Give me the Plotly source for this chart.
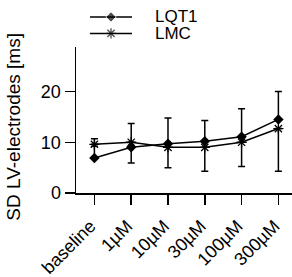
import plotly.graph_objects as go

categories = ["baseline", "1µM", "10µM", "30µM", "100µM", "300µM"]
lqt1 = [6.9, 9.0, 9.7, 10.2, 11.1, 14.5]
lqt1_err_up = [3.8, 4.7, 5.1, 4.1, 5.5, 5.5]
lmc = [9.6, 10.0, 9.0, 9.0, 10.0, 12.7]
lmc_err_down = [0.4, 4.1, 4.0, 4.7, 4.8, 8.4]
y_ticks = [0, 10, 20]
series_names = ["LQT1", "LMC"]

font = "Liberation Sans, Arial, sans-serif"
xi = list(range(len(categories)))

W, H = 292, 277
ML, MB = 76, 83.5
plot_h = H - MB           # plot area with zero top margin
axis_top_px = 47          # top of the y axis line, in pixels from top
ydom_top = (plot_h - axis_top_px) / plot_h

marker_lqt1 = dict(symbol="diamond", size=8, color="black")
marker_lmc = dict(symbol="asterisk-open", size=8.5, color="black",
                  line=dict(width=1.3, color="black"))

fig = go.Figure()
fig.add_trace(go.Scatter(
    x=xi, y=lqt1, name=series_names[0], mode="lines+markers",
    line=dict(color="black", width=1.5), marker=marker_lqt1,
    error_y=dict(type="data", symmetric=False, array=lqt1_err_up,
                 arrayminus=[0] * len(lqt1), color="black", thickness=1.5, width=3.5),
    showlegend=False,
))
fig.add_trace(go.Scatter(
    x=xi, y=lmc, name=series_names[1], mode="lines+markers",
    line=dict(color="black", width=1.5), marker=marker_lmc,
    error_y=dict(type="data", symmetric=False, array=[0] * len(lmc),
                 arrayminus=lmc_err_down, color="black", thickness=1.5, width=3.5),
    showlegend=False,
))

# legend drawn on a separate pixel-scaled subplot above the axes
leg_x0, leg_x1, leg_text_x = 90, 132, 153
leg_rows = [17, 33.5]
for name, mk, yy in zip(series_names, [marker_lqt1, marker_lmc], leg_rows):
    fig.add_trace(go.Scatter(
        x=[leg_x0, (leg_x0 + leg_x1) / 2, leg_x1], y=[yy, yy, yy],
        mode="lines+markers", xaxis="x2", yaxis="y2",
        line=dict(color="black", width=1.5),
        marker=dict(mk, size=[0, mk["size"], 0]),
        showlegend=False, hoverinfo="skip", cliponaxis=False,
    ))
    fig.add_annotation(x=leg_text_x, y=yy, xref="x2", yref="y2", text=name,
                       showarrow=False, xanchor="left", yanchor="middle",
                       font=dict(size=17, family=font, color="black"))

# y-axis title (paper coordinates)
title_cx, title_cy = 14, 127
fig.add_annotation(x=(title_cx - ML) / (W - ML), y=(plot_h - title_cy) / plot_h,
                   xref="paper", yref="paper", text="SD LV-electrodes [ms]",
                   textangle=-90, showarrow=False, xanchor="center", yanchor="middle",
                   font=dict(size=19, family=font, color="black"))

fig.update_layout(
    width=W, height=H,
    margin=dict(l=ML, r=0, t=0, b=MB),
    paper_bgcolor="white", plot_bgcolor="rgba(0,0,0,0)",
    font=dict(family=font, size=18, color="black"),
    showlegend=False,
    xaxis=dict(range=[-0.5, 5.37], tickmode="array", tickvals=xi, ticktext=categories,
               tickangle=-45, showline=True, linecolor="black", linewidth=1.5,
               ticks="outside", ticklen=10, tickwidth=1.5, tickcolor="black",
               showgrid=False, zeroline=False, automargin=False, domain=[0, 1],
               tickfont=dict(size=18), ticklabelstandoff=4, ticklabelshift=-4),
    yaxis=dict(range=[0, 28.8], tickmode="array", tickvals=y_ticks,
               showline=True, linecolor="black", linewidth=1.5,
               ticks="outside", ticklen=10, tickwidth=1.5, tickcolor="black",
               showgrid=False, zeroline=False, automargin=False,
               domain=[0, ydom_top], tickfont=dict(size=18)),
    xaxis2=dict(range=[ML, W], domain=[0, 1], anchor="y2",
                visible=False, fixedrange=True),
    yaxis2=dict(range=[axis_top_px, 0], domain=[ydom_top, 1], anchor="x2",
                visible=False, fixedrange=True),
)

fig.write_html("out.html", config={"displayModeBar": False, "staticPlot": True},
               post_script="document.body.style.margin='0';document.body.style.overflow='hidden';")
